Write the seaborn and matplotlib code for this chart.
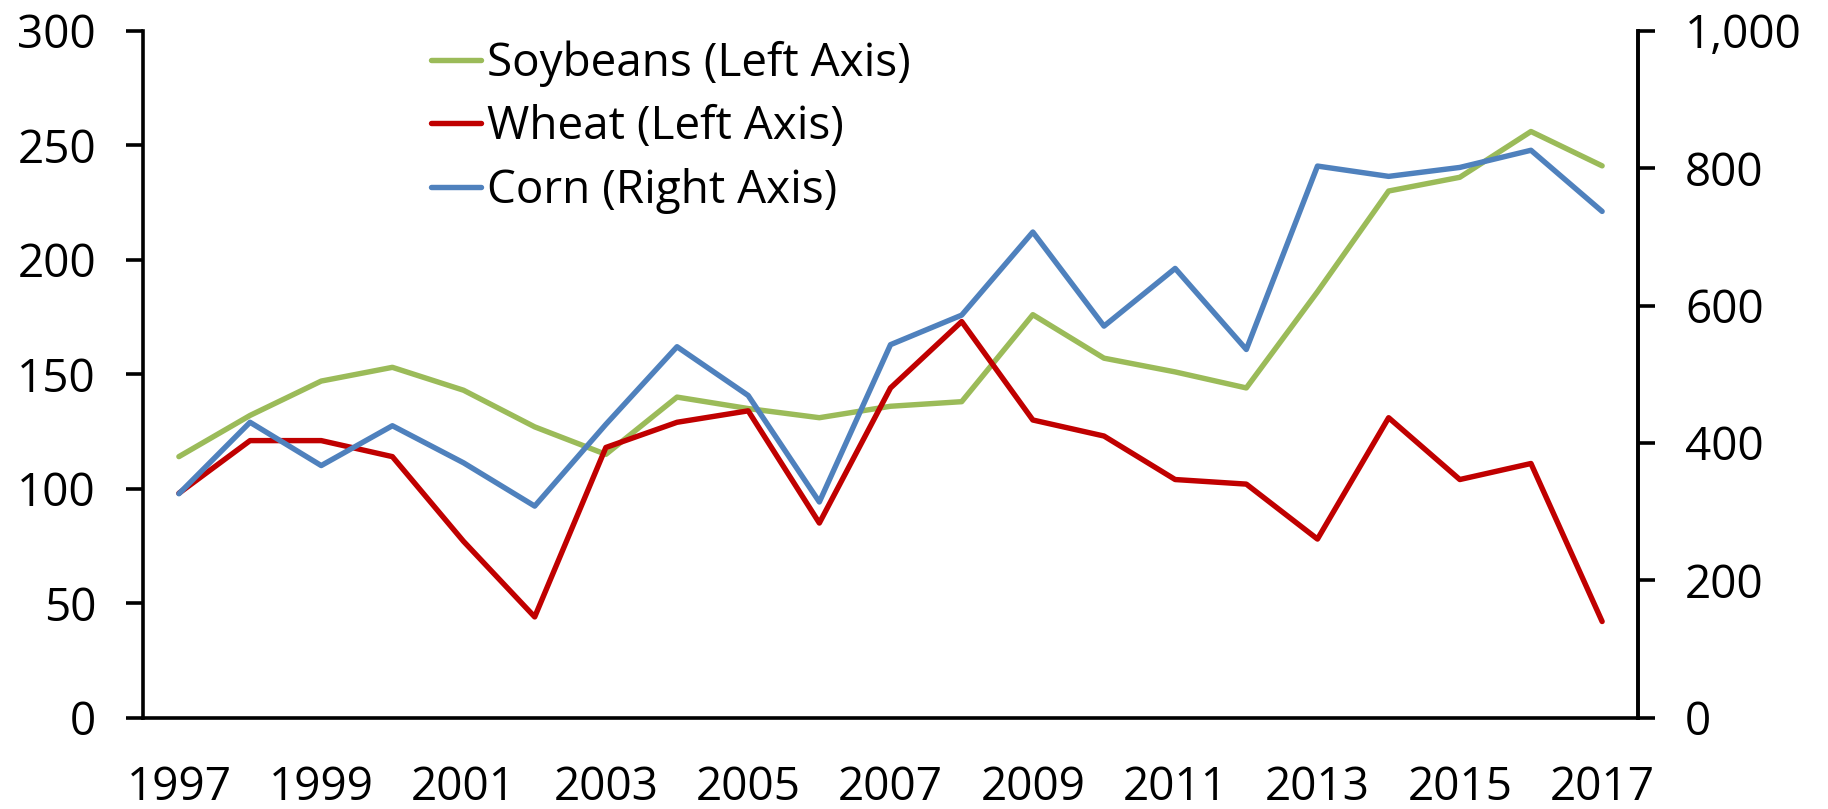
import matplotlib
matplotlib.use('Agg')
import matplotlib.pyplot as plt
from matplotlib.lines import Line2D
import numpy as np
import pandas as pd
import seaborn as sns

years = list(range(1997, 2018))
soybeans = [114, 132, 147, 153, 143, 127, 115, 140, 135, 131, 136, 138, 176, 157, 151, 144, 186, 230, 236, 256, 241]
wheat = [98, 121, 121, 114, 77, 44, 118, 129, 134, 85, 144, 173, 130, 123, 104, 102, 78, 131, 104, 111, 42]
corn = [326, 430, 367, 425, 371, 308, 427, 540, 469, 314, 543, 586, 707, 570, 654, 536, 803, 788, 801, 826, 737]
tick_labels = [str(y) if (y - 1997) % 2 == 0 else '' for y in years]

GREEN, RED, BLUE = '#9BBB59', '#C00000', '#4F81BD'

sns.set_theme(style='white')
plt.rcParams['font.family'] = ['Open Sans', 'DejaVu Sans']
plt.rcParams['text.color'] = 'black'

df = pd.DataFrame({
    'pos': np.arange(len(years)),
    'Soybeans': soybeans,
    'Wheat': wheat,
    'Corn': corn,
})

fig = plt.figure(figsize=(18.28, 8.09), dpi=100)
ax = fig.add_axes([0.0784, 0.1129, 0.8175, 0.8491])
ax2 = ax.twinx()

lw = 3.9
sns.lineplot(data=df, x='pos', y='Soybeans', ax=ax, color=GREEN, lw=lw)
sns.lineplot(data=df, x='pos', y='Wheat', ax=ax, color=RED, lw=lw)
sns.lineplot(data=df, x='pos', y='Corn', ax=ax2, color=BLUE, lw=lw)

n = len(years)
ax.set_xlim(-0.5, n - 0.5)
ax.set_ylim(0, 300)
ax2.set_ylim(0, 1000)
ax.set_yticks(range(0, 301, 50))
ax2.set_yticks(range(0, 1001, 200))
ax2.set_yticklabels([f'{v:,}' for v in range(0, 1001, 200)])

# category boundaries get tick marks, labels sit at category centres
ax.set_xticks(np.arange(-0.5, n, 1.0))
ax.set_xticklabels([])
ax.set_xticks(np.arange(n), minor=True)
ax.set_xticklabels(tick_labels, minor=True)

fs = 33
sw = 2.6
for a in (ax, ax2):
    a.set_xlabel('')
    a.set_ylabel('')
    a.spines['top'].set_visible(False)
    for s in ('left', 'right', 'bottom'):
        a.spines[s].set_linewidth(sw)
        a.spines[s].set_color('black')

ax.tick_params(axis='x', which='major', direction='out', length=11, width=sw, colors='black')
ax.tick_params(axis='x', which='minor', length=0, pad=34, labelsize=fs, labelcolor='black')
ax.tick_params(axis='y', direction='out', length=12, width=sw, pad=22, labelsize=fs,
               colors='black', left=True)
ax2.tick_params(axis='y', direction='out', length=12, width=sw, pad=22, labelsize=fs,
                colors='black', right=True)
ax2.spines['left'].set_visible(False)
ax2.spines['bottom'].set_visible(False)

handles = [
    Line2D([], [], color=GREEN, lw=lw, solid_capstyle='round'),
    Line2D([], [], color=RED, lw=lw, solid_capstyle='round'),
    Line2D([], [], color=BLUE, lw=lw, solid_capstyle='round'),
]
labels = ['Soybeans (Left Axis)', 'Wheat (Left Axis)', 'Corn (Right Axis)']
ax2.legend(handles, labels, loc='upper left', bbox_to_anchor=(0.1925, 0.986), frameon=False,
           fontsize=fs, handlelength=1.1, handletextpad=0.12, labelspacing=0.38,
           borderaxespad=0, borderpad=0, labelcolor='black')

fig.savefig('out.png', dpi=100)
